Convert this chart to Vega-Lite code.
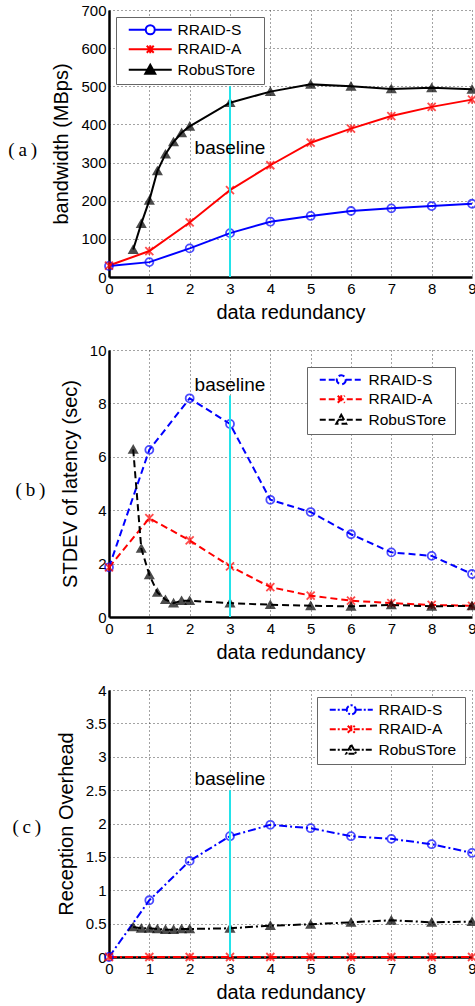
{
  "$schema": "https://vega.github.io/schema/vega-lite/v6.json",
  "background": "white",
  "padding": {"left": 8, "top": 3, "right": 0, "bottom": 2},
  "spacing": 21,
  "config": {
    "view": {"stroke": null},
    "axis": {
      "labelFont": "Liberation Sans", "labelFontSize": 15, "labelColor": "black", "labelOverlap": false,
      "titleFont": "Liberation Sans", "titleFontSize": 20, "titleFontWeight": "normal", "titleColor": "black",
      "domainColor": "black", "domainWidth": 2.5, "ticks": false, "labelPadding": 4, "tickCount": 20,
      "gridColor": "#333", "gridDash": [1, 3], "gridWidth": 1, "gridOpacity": 0.9
    },
    "axisY": {"titlePadding": 9, "labelPadding": 3},
    "axisX": {"titlePadding": 6, "labelFlush": false},
    "legend": {
      "labelFont": "Liberation Sans", "labelFontSize": 15.5, "labelColor": "black",
      "strokeColor": "#666", "fillColor": "white", "padding": 5,
      "symbolSize": 100, "labelOffset": 41, "rowPadding": 1.5, "cornerRadius": 0,
      "symbolStrokeWidth": 2
    },
    "title": {"font": "Liberation Serif", "fontSize": 19, "fontWeight": "normal", "color": "black"}
  },
  "datasets": {
    "a": [
      {"s": "RRAID-S", "x": 0, "y": 29}, {"s": "RRAID-S", "x": 1, "y": 39}, {"s": "RRAID-S", "x": 2, "y": 75},
      {"s": "RRAID-S", "x": 3, "y": 115}, {"s": "RRAID-S", "x": 4, "y": 145}, {"s": "RRAID-S", "x": 5, "y": 160},
      {"s": "RRAID-S", "x": 6, "y": 173}, {"s": "RRAID-S", "x": 7, "y": 180}, {"s": "RRAID-S", "x": 8, "y": 186},
      {"s": "RRAID-S", "x": 9, "y": 192},
      {"s": "RRAID-A", "x": 0, "y": 30}, {"s": "RRAID-A", "x": 1, "y": 68}, {"s": "RRAID-A", "x": 2, "y": 143},
      {"s": "RRAID-A", "x": 3, "y": 228}, {"s": "RRAID-A", "x": 4, "y": 293}, {"s": "RRAID-A", "x": 5, "y": 352},
      {"s": "RRAID-A", "x": 6, "y": 389}, {"s": "RRAID-A", "x": 7, "y": 422}, {"s": "RRAID-A", "x": 8, "y": 446},
      {"s": "RRAID-A", "x": 9, "y": 465},
      {"s": "RobuSTore", "x": 0.6, "y": 72}, {"s": "RobuSTore", "x": 0.8, "y": 140}, {"s": "RobuSTore", "x": 1, "y": 201},
      {"s": "RobuSTore", "x": 1.2, "y": 278}, {"s": "RobuSTore", "x": 1.4, "y": 322}, {"s": "RobuSTore", "x": 1.6, "y": 354},
      {"s": "RobuSTore", "x": 1.8, "y": 378}, {"s": "RobuSTore", "x": 2, "y": 395}, {"s": "RobuSTore", "x": 3, "y": 457},
      {"s": "RobuSTore", "x": 4, "y": 486}, {"s": "RobuSTore", "x": 5, "y": 505}, {"s": "RobuSTore", "x": 6, "y": 500},
      {"s": "RobuSTore", "x": 7, "y": 493}, {"s": "RobuSTore", "x": 8, "y": 496}, {"s": "RobuSTore", "x": 9, "y": 492}
    ],
    "b": [
      {"s": "RRAID-S", "x": 0, "y": 1.86}, {"s": "RRAID-S", "x": 1, "y": 6.26}, {"s": "RRAID-S", "x": 2, "y": 8.19},
      {"s": "RRAID-S", "x": 3, "y": 7.23}, {"s": "RRAID-S", "x": 4, "y": 4.39}, {"s": "RRAID-S", "x": 5, "y": 3.93},
      {"s": "RRAID-S", "x": 6, "y": 3.1}, {"s": "RRAID-S", "x": 7, "y": 2.42}, {"s": "RRAID-S", "x": 8, "y": 2.29},
      {"s": "RRAID-S", "x": 9, "y": 1.61},
      {"s": "RRAID-A", "x": 0, "y": 1.86}, {"s": "RRAID-A", "x": 1, "y": 3.7}, {"s": "RRAID-A", "x": 2, "y": 2.87},
      {"s": "RRAID-A", "x": 3, "y": 1.9}, {"s": "RRAID-A", "x": 4, "y": 1.12}, {"s": "RRAID-A", "x": 5, "y": 0.8},
      {"s": "RRAID-A", "x": 6, "y": 0.61}, {"s": "RRAID-A", "x": 7, "y": 0.52}, {"s": "RRAID-A", "x": 8, "y": 0.45},
      {"s": "RRAID-A", "x": 9, "y": 0.42},
      {"s": "RobuSTore", "x": 0.6, "y": 6.28}, {"s": "RobuSTore", "x": 0.8, "y": 2.57}, {"s": "RobuSTore", "x": 1, "y": 1.58},
      {"s": "RobuSTore", "x": 1.2, "y": 0.92}, {"s": "RobuSTore", "x": 1.4, "y": 0.65}, {"s": "RobuSTore", "x": 1.6, "y": 0.52},
      {"s": "RobuSTore", "x": 1.8, "y": 0.61}, {"s": "RobuSTore", "x": 2, "y": 0.61}, {"s": "RobuSTore", "x": 3, "y": 0.52},
      {"s": "RobuSTore", "x": 4, "y": 0.46}, {"s": "RobuSTore", "x": 5, "y": 0.42}, {"s": "RobuSTore", "x": 6, "y": 0.4},
      {"s": "RobuSTore", "x": 7, "y": 0.45}, {"s": "RobuSTore", "x": 8, "y": 0.4}, {"s": "RobuSTore", "x": 9, "y": 0.42}
    ],
    "c": [
      {"s": "RRAID-S", "x": 0, "y": 0}, {"s": "RRAID-S", "x": 1, "y": 0.85}, {"s": "RRAID-S", "x": 2, "y": 1.44},
      {"s": "RRAID-S", "x": 3, "y": 1.81}, {"s": "RRAID-S", "x": 4, "y": 1.98}, {"s": "RRAID-S", "x": 5, "y": 1.93},
      {"s": "RRAID-S", "x": 6, "y": 1.81}, {"s": "RRAID-S", "x": 7, "y": 1.77}, {"s": "RRAID-S", "x": 8, "y": 1.69},
      {"s": "RRAID-S", "x": 9, "y": 1.56},
      {"s": "RRAID-A", "x": 0, "y": 0}, {"s": "RRAID-A", "x": 1, "y": 0}, {"s": "RRAID-A", "x": 2, "y": 0},
      {"s": "RRAID-A", "x": 3, "y": 0}, {"s": "RRAID-A", "x": 4, "y": 0}, {"s": "RRAID-A", "x": 5, "y": 0},
      {"s": "RRAID-A", "x": 6, "y": 0}, {"s": "RRAID-A", "x": 7, "y": 0}, {"s": "RRAID-A", "x": 8, "y": 0},
      {"s": "RRAID-A", "x": 9, "y": 0},
      {"s": "RobuSTore", "x": 0.6, "y": 0.45}, {"s": "RobuSTore", "x": 0.8, "y": 0.43}, {"s": "RobuSTore", "x": 1, "y": 0.43},
      {"s": "RobuSTore", "x": 1.2, "y": 0.42}, {"s": "RobuSTore", "x": 1.4, "y": 0.41}, {"s": "RobuSTore", "x": 1.6, "y": 0.41},
      {"s": "RobuSTore", "x": 1.8, "y": 0.42}, {"s": "RobuSTore", "x": 2, "y": 0.42}, {"s": "RobuSTore", "x": 3, "y": 0.43},
      {"s": "RobuSTore", "x": 4, "y": 0.47}, {"s": "RobuSTore", "x": 5, "y": 0.49}, {"s": "RobuSTore", "x": 6, "y": 0.52},
      {"s": "RobuSTore", "x": 7, "y": 0.55}, {"s": "RobuSTore", "x": 8, "y": 0.52}, {"s": "RobuSTore", "x": 9, "y": 0.53}
    ]
  },
  "vconcat": [
    {
      "width": 363, "height": 267,
      "title": {"text": "(\u2009a\u2009)", "orient": "left", "angle": 0, "align": "left", "baseline": "middle", "offset": 15, "dy": 6, "anchor": "middle"},
      "layer": [
        {
          "data": {"name": "a"},
          "mark": {"type": "line", "strokeWidth": 2},
          "encoding": {
            "x": {"field": "x", "type": "quantitative", "scale": {"domain": [0, 9], "nice": false}, "axis": {"title": "data redundancy", "values": [0,1,2,3,4,5,6,7,8,9], "labelOverlap": false, "tickCount": 20, "format": "d"}},
            "y": {"field": "y", "type": "quantitative", "scale": {"domain": [0, 700], "nice": false}, "axis": {"title": "bandwidth (MBps)", "values": [0,100,200,300,400,500,600,700], "labelOverlap": false, "tickCount": 20, "format": "d"}},
            "color": {"field": "s", "type": "nominal",
              "scale": {"domain": ["RRAID-S", "RRAID-A", "RobuSTore"], "range": ["#0000ff", "#ff0000", "#000000"]},
              "legend": {"title": null, "orient": "top-left", "offset": 7,
                "encode": {"symbols": {"update": {
                  "shape": {"signal": "datum.value === 'RRAID-S' ? 'M25.2,0L25.2,0M0,0H3.4M5.2,0H8.6M5.2,0A0.9,0.9,0,1,1,3.4,0A0.9,0.9,0,1,1,5.2,0' : datum.value === 'RRAID-A' ? 'M25.2,0L25.2,0M0,0H8.6M3.6,-0.7L5,0.7M3.6,0.7L5,-0.7M4.3,-0.8V0.8' : 'M25.2,0L25.2,0M0,0H8.6M4.3,-1L5.3,0.8L3.3,0.8Z'"},
                  "fill": {"signal": "datum.value === 'RobuSTore' ? 'black' : 'transparent'"},
                  "strokeWidth": {"value": 2}
                }}}}
            }
          }
        },
        {
          "data": {"name": "a"},
          "mark": {"type": "point", "filled": true, "size": 64, "strokeWidth": 1.8},
          "encoding": {
            "x": {"field": "x", "type": "quantitative"},
            "y": {"field": "y", "type": "quantitative"},
            "stroke": {"field": "s", "type": "nominal", "scale": {"domain": ["RRAID-S", "RRAID-A", "RobuSTore"], "range": ["#0000ff", "#ff0000", "#000000"]}, "legend": null},
            "fill": {"field": "s", "type": "nominal", "scale": {"domain": ["RRAID-S", "RRAID-A", "RobuSTore"], "range": ["transparent", "transparent", "#000000"]}, "legend": null},
            "shape": {"field": "s", "type": "nominal", "scale": {"domain": ["RRAID-S", "RRAID-A", "RobuSTore"], "range": ["circle", "M-1,-1L1,1M-1,1L1,-1M0,-1V1", "triangle-up"]}, "legend": null}
          }
        },
        {
          "data": {"values": [{"x": 3, "y": 0, "y2": 500}]},
          "mark": {"type": "rule", "color": "#22e3ea", "strokeWidth": 2},
          "encoding": {"x": {"field": "x", "type": "quantitative"}, "y": {"field": "y", "type": "quantitative"}, "y2": {"field": "y2"}}
        },
        {
          "data": {"values": [{"x": 3, "y": 338, "t": "baseline"}]},
          "mark": {"type": "text", "font": "Liberation Sans", "fontSize": 19, "color": "black", "baseline": "middle"},
          "encoding": {"x": {"field": "x", "type": "quantitative"}, "y": {"field": "y", "type": "quantitative"}, "text": {"field": "t"}}
        }
      ]
    },
    {
      "width": 363, "height": 267,
      "title": {"text": "(\u2009b\u2009)", "orient": "left", "angle": 0, "align": "left", "baseline": "middle", "offset": 15, "dy": 6, "anchor": "middle"},
      "layer": [
        {
          "data": {"name": "b"},
          "mark": {"type": "line", "strokeWidth": 2, "strokeDash": [7, 4]},
          "encoding": {
            "x": {"field": "x", "type": "quantitative", "scale": {"domain": [0, 9], "nice": false}, "axis": {"title": "data redundancy", "values": [0,1,2,3,4,5,6,7,8,9], "labelOverlap": false, "tickCount": 20, "format": "d"}},
            "y": {"field": "y", "type": "quantitative", "scale": {"domain": [0, 10], "nice": false}, "axis": {"title": "STDEV of latency (sec)", "values": [0,2,4,6,8,10], "labelOverlap": false, "tickCount": 20, "format": "d"}},
            "color": {"field": "s", "type": "nominal",
              "scale": {"domain": ["RRAID-S", "RRAID-A", "RobuSTore"], "range": ["#0000ff", "#ff0000", "#000000"]},
              "legend": {"title": null, "orient": "top-right", "offset": 17,
                "encode": {"symbols": {"update": {
                  "shape": {"signal": "datum.value === 'RRAID-S' ? 'M25.2,0L25.2,0M0,0H3.4M5.2,0H8.6M5.2,0A0.9,0.9,0,1,1,3.4,0A0.9,0.9,0,1,1,5.2,0' : datum.value === 'RRAID-A' ? 'M25.2,0L25.2,0M0,0H8.6M3.6,-0.7L5,0.7M3.6,0.7L5,-0.7M4.3,-0.8V0.8' : 'M25.2,0L25.2,0M0,0H8.6M4.3,-1L5.3,0.8L3.3,0.8Z'"},
                  "fill": {"value": "transparent"},
                  "strokeDash": {"value": [6, 3]},
                  "strokeWidth": {"value": 2}
                }}}}
            }
          }
        },
        {
          "data": {"name": "b"},
          "mark": {"type": "point", "filled": true, "size": 64, "strokeWidth": 1.8},
          "encoding": {
            "x": {"field": "x", "type": "quantitative"},
            "y": {"field": "y", "type": "quantitative"},
            "stroke": {"field": "s", "type": "nominal", "scale": {"domain": ["RRAID-S", "RRAID-A", "RobuSTore"], "range": ["#0000ff", "#ff0000", "#000000"]}, "legend": null},
            "fill": {"field": "s", "type": "nominal", "scale": {"domain": ["RRAID-S", "RRAID-A", "RobuSTore"], "range": ["transparent", "transparent", "#000000"]}, "legend": null},
            "shape": {"field": "s", "type": "nominal", "scale": {"domain": ["RRAID-S", "RRAID-A", "RobuSTore"], "range": ["circle", "M-1,-1L1,1M-1,1L1,-1M0,-1V1", "triangle-up"]}, "legend": null}
          }
        },
        {
          "data": {"values": [{"x": 3, "y": 0, "y2": 8.3}]},
          "mark": {"type": "rule", "color": "#22e3ea", "strokeWidth": 2},
          "encoding": {"x": {"field": "x", "type": "quantitative"}, "y": {"field": "y", "type": "quantitative"}, "y2": {"field": "y2"}}
        },
        {
          "data": {"values": [{"x": 3, "y": 8.69, "t": "baseline"}]},
          "mark": {"type": "text", "font": "Liberation Sans", "fontSize": 19, "color": "black", "baseline": "middle"},
          "encoding": {"x": {"field": "x", "type": "quantitative"}, "y": {"field": "y", "type": "quantitative"}, "text": {"field": "t"}}
        }
      ]
    },
    {
      "width": 363, "height": 267,
      "title": {"text": "(\u2009c\u2009)", "orient": "left", "angle": 0, "align": "left", "baseline": "middle", "offset": 15, "dy": 3, "anchor": "middle"},
      "layer": [
        {
          "data": {"name": "c"},
          "mark": {"type": "line", "strokeWidth": 2, "strokeDash": [8, 3, 2, 3]},
          "encoding": {
            "x": {"field": "x", "type": "quantitative", "scale": {"domain": [0, 9], "nice": false}, "axis": {"title": "data redundancy", "values": [0,1,2,3,4,5,6,7,8,9], "labelOverlap": false, "tickCount": 20, "format": "d"}},
            "y": {"field": "y", "type": "quantitative", "scale": {"domain": [0, 4], "nice": false}, "axis": {"title": "Reception Overhead", "values": [0,0.5,1,1.5,2,2.5,3,3.5,4], "format": "~g", "labelOverlap": false, "tickCount": 20}},
            "color": {"field": "s", "type": "nominal",
              "scale": {"domain": ["RRAID-S", "RRAID-A", "RobuSTore"], "range": ["#0000ff", "#ff0000", "#000000"]},
              "legend": {"title": null, "orient": "top-right", "offset": 7,
                "encode": {"symbols": {"update": {
                  "shape": {"signal": "datum.value === 'RRAID-S' ? 'M25.2,0L25.2,0M0,0H3.4M5.2,0H8.6M5.2,0A0.9,0.9,0,1,1,3.4,0A0.9,0.9,0,1,1,5.2,0' : datum.value === 'RRAID-A' ? 'M25.2,0L25.2,0M0,0H8.6M3.6,-0.7L5,0.7M3.6,0.7L5,-0.7M4.3,-0.8V0.8' : 'M25.2,0L25.2,0M0,0H8.6M4.3,-1L5.3,0.8L3.3,0.8Z'"},
                  "fill": {"value": "transparent"},
                  "strokeDash": {"value": [6, 2, 2, 2]},
                  "strokeWidth": {"value": 2}
                }}}}
            }
          }
        },
        {
          "data": {"name": "c"},
          "mark": {"type": "point", "filled": true, "size": 64, "strokeWidth": 1.8},
          "encoding": {
            "x": {"field": "x", "type": "quantitative"},
            "y": {"field": "y", "type": "quantitative"},
            "stroke": {"field": "s", "type": "nominal", "scale": {"domain": ["RRAID-S", "RRAID-A", "RobuSTore"], "range": ["#0000ff", "#ff0000", "#000000"]}, "legend": null},
            "fill": {"field": "s", "type": "nominal", "scale": {"domain": ["RRAID-S", "RRAID-A", "RobuSTore"], "range": ["transparent", "transparent", "#000000"]}, "legend": null},
            "shape": {"field": "s", "type": "nominal", "scale": {"domain": ["RRAID-S", "RRAID-A", "RobuSTore"], "range": ["circle", "M-1,-1L1,1M-1,1L1,-1M0,-1V1", "triangle-up"]}, "legend": null}
          }
        },
        {
          "data": {"values": [{"x": 3, "y": 0, "y2": 2.5}]},
          "mark": {"type": "rule", "color": "#22e3ea", "strokeWidth": 2},
          "encoding": {"x": {"field": "x", "type": "quantitative"}, "y": {"field": "y", "type": "quantitative"}, "y2": {"field": "y2"}}
        },
        {
          "data": {"values": [{"x": 3, "y": 2.67, "t": "baseline"}]},
          "mark": {"type": "text", "font": "Liberation Sans", "fontSize": 19, "color": "black", "baseline": "middle"},
          "encoding": {"x": {"field": "x", "type": "quantitative"}, "y": {"field": "y", "type": "quantitative"}, "text": {"field": "t"}}
        }
      ]
    }
  ]
}
